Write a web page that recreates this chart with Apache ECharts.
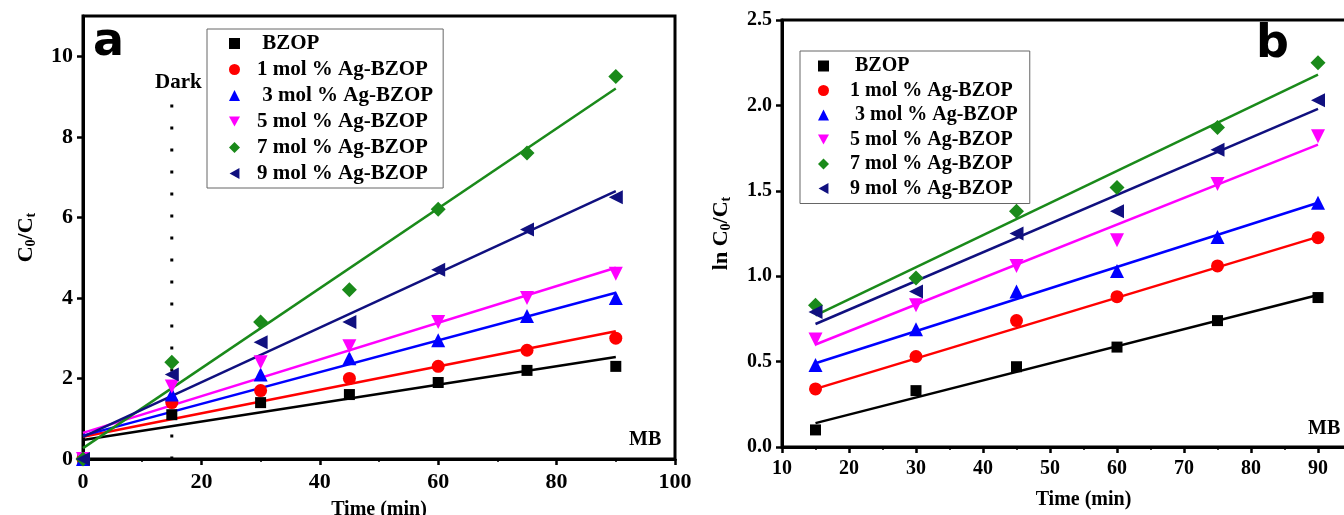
<!DOCTYPE html>
<html>
<head>
<meta charset="utf-8">
<script src="https://cdn.jsdelivr.net/npm/echarts@6/dist/echarts.min.js"></script>
<style>
    html, body { margin: 0; padding: 0; background: #fff; }
    #main { width: 1344px; height: 515px; }
</style>
</head>
<body>
<div id="main"></div>
<script>
    // sample names (legend order)
    const sampleNames = [' BZOP', '1 mol % Ag-BZOP', ' 3 mol % Ag-BZOP', '5 mol % Ag-BZOP', '7 mol % Ag-BZOP', '9 mol % Ag-BZOP']

    // panel a: C0/Ct vs time
    const timesA = [0, 15, 30, 45, 60, 75, 90]
    const ratioBZOP = [0, 1.1, 1.4, 1.6, 1.9, 2.2, 2.3]
    const ratioAg1 = [0, 1.4, 1.7, 2.0, 2.3, 2.7, 3.0]
    const ratioAg3 = [0, 1.6, 2.1, 2.5, 2.95, 3.55, 4.0]
    const ratioAg5 = [0, 1.8, 2.4, 2.8, 3.4, 4.0, 4.6]
    const ratioAg7 = [0, 2.4, 3.4, 4.2, 6.2, 7.6, 9.5]
    const ratioAg9 = [0, 2.1, 2.9, 3.4, 4.7, 5.7, 6.5]
    // fitted lines, panel a (value at start / end time)
    const fitTimesA = [0, 90]
    const fitA = [[0.47, 2.53], [0.55, 3.17], [0.58, 4.13], [0.65, 4.75], [0.27, 9.2], [0.55, 6.65]]

    // panel b: ln C0/Ct vs time
    const timesB = [15, 30, 45, 60, 75, 90]
    const lnBZOP = [0.1, 0.33, 0.47, 0.585, 0.74, 0.875]
    const lnAg1 = [0.34, 0.53, 0.74, 0.88, 1.06, 1.225]
    const lnAg3 = [0.48, 0.69, 0.91, 1.03, 1.23, 1.43]
    const lnAg5 = [0.63, 0.83, 1.06, 1.21, 1.54, 1.82]
    const lnAg7 = [0.83, 0.99, 1.38, 1.52, 1.87, 2.25]
    const lnAg9 = [0.79, 0.91, 1.25, 1.38, 1.74, 2.03]
    const fitTimesB = [15, 90]
    const fitB = [[0.14, 0.89], [0.34, 1.23], [0.49, 1.43], [0.60, 1.77], [0.77, 2.18], [0.72, 1.98]]

    const darkTime = 15
    const darkTop = 8.8

    const ratios = [ratioBZOP, ratioAg1, ratioAg3, ratioAg5, ratioAg7, ratioAg9]
    const lns = [lnBZOP, lnAg1, lnAg3, lnAg5, lnAg7, lnAg9]

    const colors = ['#000000', '#ff0000', '#0000ff', '#ff00ff', '#1a8a1a', '#10107f']
    const symbols = ['rect', 'circle', 'triangle', 'path://M0,0 L10,0 L5,9 Z', 'diamond', 'path://M9,0 L9,10 L0,5 Z']
    const symbolSizes = [11, 13, 14, 14, 15, 14]

    const serif = 'Liberation Serif'
    const boldSerif = (size) => ({ fontFamily: serif, fontWeight: 'bold', fontSize: size, color: '#000' })

    function makeXAxis(gridIndex, min, max, interval, nameGap, fontSize) {
        return {
            type: 'value', gridIndex: gridIndex, min: min, max: max, interval: interval,
            name: 'Time (min)', nameLocation: 'middle', nameGap: nameGap, nameTextStyle: boldSerif(20),
            axisLine: { lineStyle: { color: '#000', width: 3 } },
            axisTick: { length: 6, lineStyle: { width: 2.5 } },
            minorTick: { show: true, splitNumber: 2, length: 3, lineStyle: { color: '#000', width: 1.5 } },
            axisLabel: Object.assign({ margin: 12 }, boldSerif(fontSize)),
            splitLine: { show: false }
        }
    }

    function yName() {
        return {
            rich: {
                b: boldSerif(22),
                s: Object.assign(boldSerif(14), { padding: [9, 0, 0, 0] })
            }
        }
    }

    let series = []
    for (let i = 0; i < sampleNames.length; i++) {
        series.push({
            name: sampleNames[i], type: 'scatter', xAxisIndex: 0, yAxisIndex: 0,
            symbol: symbols[i], symbolSize: symbolSizes[i], itemStyle: { color: colors[i], opacity: 1 },
            data: timesA.map((t, k) => [t, ratios[i][k]]), z: 3
        })
        series.push({
            type: 'line', xAxisIndex: 0, yAxisIndex: 0, showSymbol: false, silent: true,
            lineStyle: { color: colors[i], width: 2.5 },
            data: fitTimesA.map((t, k) => [t, fitA[i][k]]), z: 2
        })
        series.push({
            name: sampleNames[i], type: 'scatter', xAxisIndex: 1, yAxisIndex: 1,
            symbol: symbols[i], symbolSize: symbolSizes[i], itemStyle: { color: colors[i], opacity: 1 },
            data: timesB.map((t, k) => [t, lns[i][k]]), z: 3
        })
        series.push({
            type: 'line', xAxisIndex: 1, yAxisIndex: 1, showSymbol: false, silent: true,
            lineStyle: { color: colors[i], width: 2.5 },
            data: fitTimesB.map((t, k) => [t, fitB[i][k]]), z: 2
        })
    }
    // dark period marker
    series.push({
        type: 'line', xAxisIndex: 0, yAxisIndex: 0, showSymbol: false, silent: true,
        lineStyle: { color: '#000', width: 3, type: [3, 19] },
        data: [[darkTime, darkTop], [darkTime, 0]], z: 1
    })

    const legendBase = {
        orient: 'vertical', borderColor: '#666', borderWidth: 1,
        itemWidth: 11, itemHeight: 11, selectedMode: false,
        data: sampleNames
    }

    let myChart = echarts.init(document.getElementById('main'))
    let option = {
        animation: false,
        backgroundColor: '#fff',
        grid: [
            { left: 83, right: 669, top: 16, bottom: 56, show: true, borderColor: '#000', borderWidth: 3, outerBoundsMode: 'none' },
            { left: 782, right: -41, top: 20, bottom: 68, show: true, borderColor: '#000', borderWidth: 3, outerBoundsMode: 'none' }
        ],
        xAxis: [
            makeXAxis(0, 0, 100, 20, 41, 22),
            makeXAxis(1, 10, 100, 10, 43, 20)
        ],
        yAxis: [
            {
                type: 'value', gridIndex: 0, min: 0, max: 11, interval: 2,
                name: '{b|C}{s|0}{b|/C}{s|t}', nameLocation: 'middle', nameGap: 45, nameRotate: 90,
                nameTextStyle: yName(),
                axisLine: { show: true, lineStyle: { color: '#000', width: 3 } },
                axisTick: { show: true, length: 6, lineStyle: { width: 2.5 } },
                axisLabel: Object.assign({ margin: 10, showMaxLabel: false }, boldSerif(22)),
                splitLine: { show: false }
            },
            {
                type: 'value', gridIndex: 1, min: 0, max: 2.5, interval: 0.5,
                name: '{b|ln C}{s|0}{b|/C}{s|t}', nameLocation: 'middle', nameGap: 49, nameRotate: 90,
                nameTextStyle: yName(),
                axisLine: { show: true, lineStyle: { color: '#000', width: 3 } },
                axisTick: { show: true, length: 6, lineStyle: { width: 2.5 } },
                axisLabel: Object.assign({ margin: 10, formatter: v => v.toFixed(1) }, boldSerif(20)),
                splitLine: { show: false }
            }
        ],
        legend: [
            Object.assign({}, legendBase, {
                left: 207, top: 29, padding: [4, 10, 4, 22], itemGap: 5,
                textStyle: Object.assign({ padding: [0, 0, 0, 12] }, boldSerif(21))
            }),
            Object.assign({}, legendBase, {
                left: 800, top: 51, padding: [5, 12, 5, 18], itemGap: 4.5,
                textStyle: Object.assign({ padding: [0, 0, 0, 16] }, boldSerif(20))
            })
        ],
        graphic: [
            { type: 'text', left: 93, top: 20, style: { text: 'a', font: 'bold 46px "DejaVu Sans"', fill: '#000' } },
            { type: 'text', left: 1256, top: 22, style: { text: 'b', font: 'bold 46px "DejaVu Sans"', fill: '#000' } },
            { type: 'text', left: 155, top: 72, style: { text: 'Dark', font: 'bold 21px "Liberation Serif"', fill: '#000' } },
            { type: 'text', left: 629, top: 430, style: { text: 'MB', font: 'bold 20px "Liberation Serif"', fill: '#000' } },
            { type: 'text', left: 1308, top: 419, style: { text: 'MB', font: 'bold 20px "Liberation Serif"', fill: '#000' } }
        ],
        series: series
    }
    myChart.setOption(option)
</script>
</body>
</html>
